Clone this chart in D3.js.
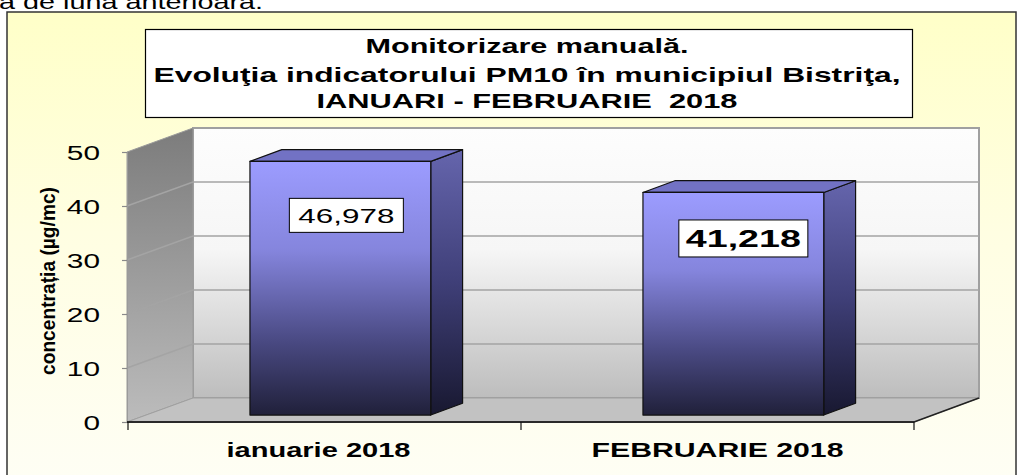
<!DOCTYPE html>
<html>
<head>
<meta charset="utf-8">
<script src="https://cdn.jsdelivr.net/npm/d3@7"></script>
<style>
  html, body { margin: 0; padding: 0; background: #fff; overflow: hidden; }
  svg { display: block; font-family: "Liberation Sans", Arial, sans-serif; }
  text { white-space: pre; }
</style>
</head>
<body>
<svg id="chart" width="1024" height="475"></svg>
<script>
// chart data
const categories = ["ianuarie 2018", "FEBRUARIE 2018"];
const pm10Values = [46.978, 41.218];
const valueLabels = ["46,978", "41,218"];
const yTicks = [0, 10, 20, 30, 40, 50];
const titleLines = [
  "Monitorizare manuală.",
  "Evoluţia indicatorului PM10 în municipiul Bistriţa,",
  "IANUARI - FEBRUARIE  2018"
];
const yTitle = "concentrația (µg/mc)";
const pageText = "a de luna anterioară.";

const svg = d3.select("#chart");
const defs = svg.append("defs");

// 3d look: depth offset of the back plane
const DX = 65, DY = 24;
const x = d3.scaleBand().domain(categories).range([128, 914]);
const y = d3.scaleLinear().domain([0, 50]).range([422, 152]);
const proj = (px, v, d) => [px + d * DX, y(v) - d * DY];

function vGrad(id, stops) {
  const g = defs.append("linearGradient").attr("id", id)
    .attr("x1", 0).attr("y1", 0).attr("x2", 0).attr("y2", 1);
  stops.forEach(s => g.append("stop").attr("offset", s[0]).attr("stop-color", s[1]));
}
vGrad("bgGrad", [[0, "#ffffc8"], [0.45, "#fffee2"], [1, "#fefef6"]]);
vGrad("backGrad", [[0, "#fdfdfd"], [0.45, "#f6f6f6"], [1, "#bdbdbd"]]);
vGrad("leftGrad", [[0, "#7c7c7c"], [1, "#bcbcbc"]]);
vGrad("frontGrad", [[0, "#9c9cff"], [0.35, "#8585dd"], [0.7, "#4b4b85"], [1, "#20203a"]]);
vGrad("sideGrad", [[0, "#6565ad"], [0.5, "#3f3f78"], [1, "#181830"]]);

// text above the chart (cut off by the page edge, as in the source page)
svg.append("text").attr("x", -1).attr("y", 9)
  .attr("font-size", 20).attr("fill", "#000")
  .attr("textLength", 264).attr("lengthAdjust", "spacingAndGlyphs")
  .text(pageText);

// chart area
svg.append("rect").attr("x", 7).attr("y", 12).attr("width", 1009).attr("height", 490)
  .attr("fill", "url(#bgGrad)").attr("stroke", "#333").attr("stroke-width", 1.5);

// title box
svg.append("rect").attr("x", 145.5).attr("y", 29.5).attr("width", 767).attr("height", 88)
  .attr("fill", "#fff").attr("stroke", "#000").attr("stroke-width", 1.2);
const titleBase = [53, 82, 108];
const titleWidth = [323, 747, 421];
svg.append("g").selectAll("text").data(titleLines).join("text")
  .attr("x", 527).attr("y", (d, i) => titleBase[i])
  .attr("text-anchor", "middle").attr("font-size", 21).attr("font-weight", "bold")
  .attr("textLength", (d, i) => titleWidth[i]).attr("lengthAdjust", "spacingAndGlyphs")
  .text(d => d);

// walls and floor
const x0 = x.range()[0], x1 = x.range()[1];
const pts = a => a.map(p => p.join(",")).join(" ");
svg.append("polygon")
  .attr("points", pts([proj(x0, 50, 1), proj(x1, 50, 1), proj(x1, 0, 1), proj(x0, 0, 1)]))
  .attr("fill", "url(#backGrad)").attr("stroke", "#a0a0a0").attr("stroke-width", 2);
svg.append("polygon")
  .attr("points", pts([proj(x0 - 1, 50, 0), proj(x0, 50, 1), proj(x0, 0, 1), proj(x0 - 1, 0, 0)]))
  .attr("fill", "url(#leftGrad)").attr("stroke", "#9a9a9a").attr("stroke-width", 1);

// gridlines
const grid = svg.append("g").attr("stroke", "#a4a4a4").attr("stroke-width", 1.6).attr("fill", "none");
grid.selectAll("path").data(yTicks.filter(v => v > 0 && v < 50)).join("path")
  .attr("d", v => "M" + proj(x0 - 1, v, 0) + "L" + proj(x0, v, 1) + "L" + proj(x1, v, 1));

svg.append("polygon")
  .attr("points", pts([proj(x0 - 1, 0, 0), proj(x0, 0, 1), proj(x1, 0, 1), proj(x1, 0, 0)]))
  .attr("fill", "#c2c2c2").attr("stroke", "#a0a0a0").attr("stroke-width", 1);
svg.append("path")
  .attr("d", "M" + proj(x1, 0, 0) + "L" + proj(x1, 0, 1))
  .attr("stroke", "#222").attr("stroke-width", 1.5);

// bars
const d0 = 0.29, d1 = 0.78;
const barW = x.bandwidth() * 0.46;
const barLeft = c => x(c) + (x.bandwidth() - barW) / 2 - 3;
const bars = svg.append("g").selectAll("g")
  .data(categories.map((c, i) => ({ c, v: pm10Values[i], i })))
  .join("g").attr("stroke", "#111").attr("stroke-width", 1.2).attr("stroke-linejoin", "round");

bars.append("polygon")
  .attr("points", d => pts([proj(barLeft(d.c) + barW, d.v, d0), proj(barLeft(d.c) + barW, d.v, d1),
                            proj(barLeft(d.c) + barW, 0, d1), proj(barLeft(d.c) + barW, 0, d0)]))
  .attr("fill", "url(#sideGrad)");
bars.append("polygon")
  .attr("points", d => pts([proj(barLeft(d.c), d.v, d0), proj(barLeft(d.c) + barW, d.v, d0),
                            proj(barLeft(d.c) + barW, d.v, d1), proj(barLeft(d.c), d.v, d1)]))
  .attr("fill", "#7272c4");
bars.append("rect")
  .attr("x", d => proj(barLeft(d.c), d.v, d0)[0])
  .attr("y", d => proj(barLeft(d.c), d.v, d0)[1])
  .attr("width", barW)
  .attr("height", d => y(0) - y(d.v))
  .attr("fill", "url(#frontGrad)");

// value labels
const labelStyle = [
  { weight: "normal", size: 21, textW: 96, boxW: 114, boxH: 34, dx: 6, dy: 54 },
  { weight: "bold", size: 23, textW: 115, boxW: 129, boxH: 37, dx: 10, dy: 46 }
];
const labels = svg.append("g").selectAll("g")
  .data(categories.map((c, i) => ({ c, v: pm10Values[i], t: valueLabels[i], s: labelStyle[i] })))
  .join("g")
  .attr("transform", d => {
    const p = proj(barLeft(d.c) + barW / 2, d.v, d0);
    return "translate(" + (p[0] + d.s.dx) + "," + (p[1] + d.s.dy) + ")";
  });
labels.append("rect")
  .attr("x", d => -d.s.boxW / 2).attr("y", d => -d.s.boxH / 2)
  .attr("width", d => d.s.boxW).attr("height", d => d.s.boxH)
  .attr("fill", "#fff").attr("stroke", "#000").attr("stroke-width", 1);
labels.append("text")
  .attr("text-anchor", "middle").attr("dy", "0.36em")
  .attr("font-size", d => d.s.size).attr("font-weight", d => d.s.weight)
  .attr("textLength", d => d.s.textW).attr("lengthAdjust", "spacingAndGlyphs")
  .text(d => d.t);

// y axis
const yAxis = svg.append("g").attr("transform", "translate(127,0)")
  .call(d3.axisLeft(y).tickValues(yTicks).tickSize(5).tickSizeOuter(0));
yAxis.select(".domain").attr("stroke", "#9a9a9a");
yAxis.selectAll(".tick line").attr("stroke", "#8a8a8a").attr("stroke-width", 1.2);
yAxis.selectAll(".tick text")
  .attr("font-size", 21).attr("fill", "#000")
  .attr("x", -27 / 1.42).attr("dy", "0.36em")
  .attr("transform", "scale(1.42,1)");
yAxis.attr("font-family", null).attr("font-size", null);

svg.append("text")
  .attr("transform", "translate(55,281) rotate(-90)")
  .attr("text-anchor", "middle").attr("font-size", 21).attr("font-weight", "bold")
  .attr("textLength", 188).attr("lengthAdjust", "spacingAndGlyphs")
  .text(yTitle);

// x axis (ticks sit on the category boundaries)
const xAxis = svg.append("g");
xAxis.append("path").attr("d", "M" + (x0 - 1) + "," + y(0) + "H" + x1)
  .attr("stroke", "#2a2a2a").attr("stroke-width", 2);
const bounds = [x0].concat(categories.map(c => x(c) + x.bandwidth()));
xAxis.selectAll("line").data(bounds).join("line")
  .attr("x1", d => d).attr("x2", d => d)
  .attr("y1", y(0)).attr("y2", y(0) + 8)
  .attr("stroke", "#111").attr("stroke-width", 1.2);
const catWidth = [184, 252];
xAxis.selectAll("text").data(categories).join("text")
  .attr("x", (c, i) => x(c) + x.bandwidth() / 2 - (i === 0 ? 6 : 0)).attr("y", 457)
  .attr("text-anchor", "middle").attr("font-size", 21).attr("font-weight", "bold")
  .attr("textLength", (c, i) => catWidth[i]).attr("lengthAdjust", "spacingAndGlyphs")
  .text(c => c);
</script>
</body>
</html>
